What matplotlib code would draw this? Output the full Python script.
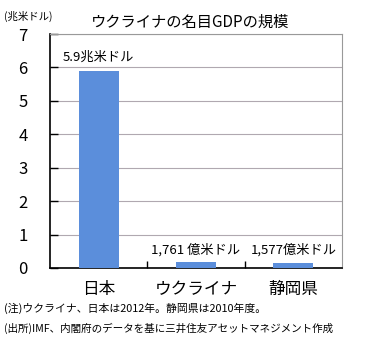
import matplotlib
matplotlib.use('Agg')
import matplotlib.pyplot as plt

plt.rcParams['font.family'] = ['Noto Sans CJK JP', 'DejaVu Sans']

# GDP in trillions of USD
regions = ['日本', 'ウクライナ', '静岡県']
gdp = [5.9, 0.1761, 0.1577]
value_labels = ['5.9兆米ドル', '1,761 億米ドル', '1,577億米ドル']
yticks = [0, 1, 2, 3, 4, 5, 6, 7]
notes = ['(注)ウクライナ、日本は2012年。静岡県は2010年度。',
         '(出所)IMF、内閣府のデータを基に三井住友アセットマネジメント作成']

fig = plt.figure(figsize=(3.67, 3.44), dpi=100)
ax = fig.add_axes([50 / 367, 1 - 268 / 344, 292 / 367, 234 / 344])

x = range(len(regions))
ax.bar(x, gdp, width=0.41, color='#5b8edb', zorder=3)
ax.set_xlim(-0.5, len(regions) - 0.5)
ax.set_ylim(0, 7)

ax.set_yticks(yticks)
ax.set_yticklabels([str(t) for t in yticks], fontsize=12)
ax.tick_params(axis='y', direction='in', length=6, width=1, pad=16, colors='black')
ax.set_xticks([0.5, 1.5], minor=False)
ax.set_xticklabels([])
ax.tick_params(axis='x', direction='in', length=5, width=1)
for i, name in enumerate(regions):
    ax.text(i, -0.65, name, ha='center', va='center', fontsize=12,
            transform=ax.transData, clip_on=False)

ax.grid(axis='y', color='#b0a8b0', linewidth=0.8, zorder=0)
ax.spines['left'].set_color('black')
ax.spines['bottom'].set_color('black')
ax.spines['left'].set_linewidth(1.2)
ax.spines['bottom'].set_linewidth(1.2)
ax.spines['top'].set_color('#999999')
ax.spines['right'].set_color('#999999')
ax.spines['top'].set_linewidth(0.8)
ax.spines['right'].set_linewidth(0.8)

# value labels above bars
ax.text(0, gdp[0] + 0.4, value_labels[0], ha='center', va='center', fontsize=9.5)
ax.text(1, 0.55, value_labels[1], ha='center', va='center', fontsize=9.5)
ax.text(2, 0.55, value_labels[2], ha='center', va='center', fontsize=9.5)

fig.text(190 / 367, 1 - 22 / 344, 'ウクライナの名目GDPの規模', ha='center', va='center', fontsize=11)
fig.text(4 / 367, 1 - 16 / 344, '(兆米ドル)', ha='left', va='center', fontsize=7.5)
fig.text(4 / 367, 1 - 308 / 344, notes[0], ha='left', va='center', fontsize=7.8)
fig.text(4 / 367, 1 - 328 / 344, notes[1], ha='left', va='center', fontsize=7.6)

fig.savefig('out.png', dpi=100)
